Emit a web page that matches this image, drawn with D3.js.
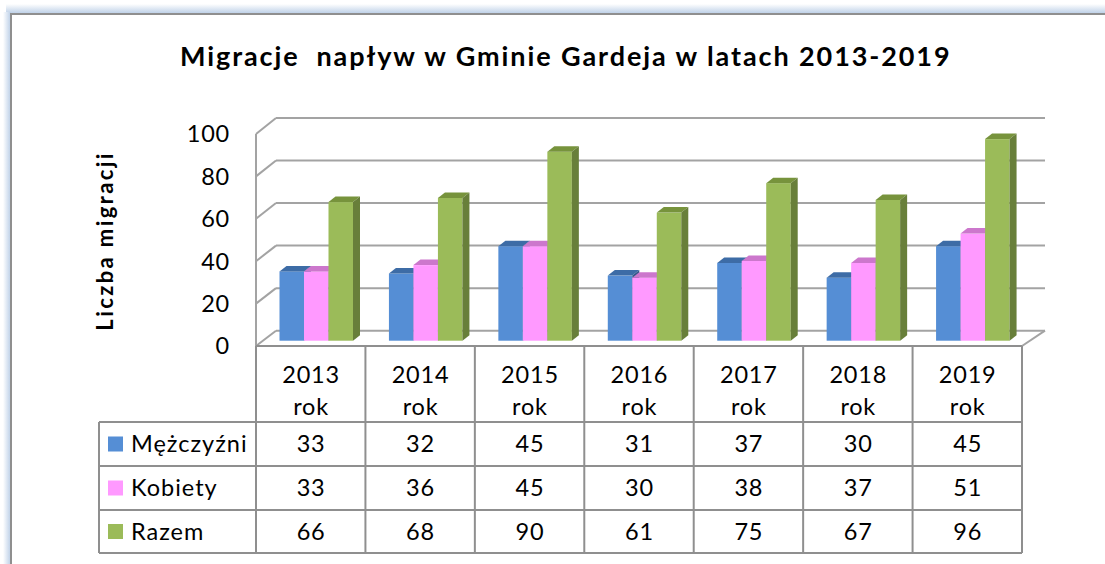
<!DOCTYPE html>
<html><head><meta charset="utf-8">
<script src="https://cdn.jsdelivr.net/npm/d3@7"></script>
<style>
html,body{margin:0;padding:0;background:#fff;overflow:hidden;}
svg{display:block;font-family:Lato,"Open Sans",sans-serif;}
</style></head>
<body>
<svg id="c" width="1105" height="564"></svg>
<script>
const categories = ["2013","2014","2015","2016","2017","2018","2019"];
const catSuffix = "rok";
const seriesNames = ["Mężczyźni","Kobiety","Razem"];
const men   = [33,32,45,31,37,30,45];
const women = [33,36,45,30,38,37,51];
const total = [66,68,90,61,75,67,96];
const yTicks = [0,20,40,60,80,100];
const title = "Migracje  napływ w Gminie Gardeja w latach 2013-2019";
const yTitle = "Liczba migracji";

const seriesValues = [men, women, total];
const colors = [
  {front:"#558ED5", top:"#3D6CA6", side:"#34598a"},
  {front:"#FF99FF", top:"#CC77CC", side:"#b266b2"},
  {front:"#9BBB59", top:"#77933C", side:"#687F3A"}
];

const svg = d3.select("#c");

// frame with glow
const defs = svg.append("defs");
const gT = defs.append("linearGradient").attr("id","gT").attr("x1",0).attr("y1",0).attr("x2",0).attr("y2",1);
gT.append("stop").attr("offset","0").attr("stop-color","#ffffff");
gT.append("stop").attr("offset","1").attr("stop-color","#b9cde6");
const gL = defs.append("linearGradient").attr("id","gL").attr("x1",0).attr("y1",0).attr("x2",1).attr("y2",0);
gL.append("stop").attr("offset","0").attr("stop-color","#ffffff");
gL.append("stop").attr("offset","1").attr("stop-color","#b9cde6");
svg.append("rect").attr("x",6).attr("y",4).attr("width",1105).attr("height",10).attr("fill","url(#gT)");
svg.append("rect").attr("x",3).attr("y",12).attr("width",8).attr("height",560).attr("fill","url(#gL)");
svg.append("rect").attr("x",11).attr("y",14).attr("width",1200).attr("height",600)
  .attr("fill","#fff").attr("stroke","#8f8f8f").attr("stroke-width",2);

// scales
const x = d3.scaleBand().domain(categories).range([256, 1022]).padding(0);
const xs = d3.scaleBand().domain(seriesNames).range([23.5, 97]).padding(0);
const yFront = d3.scaleLinear().domain([0,100]).range([346,134]);
const yBack  = d3.scaleLinear().domain([0,100]).range([330.7,118]);
const yBar   = d3.scaleLinear().domain([0,100]).range([340.7,130.7]);
const depthX = 20, backRight = 1045;
const barDX = 7, barDY = -5.5;
const fs = 23.5, ls = 0.8;

const gridColor = "#a3a3a3";
// back wall gridlines
svg.append("g").selectAll("line").data(yTicks).join("line")
  .attr("x1", 256+depthX).attr("x2", backRight)
  .attr("y1", d=>yBack(d)).attr("y2", d=>yBack(d))
  .attr("stroke", gridColor).attr("stroke-width", 2);
// side wall diagonals
svg.append("g").selectAll("line").data(yTicks).join("line")
  .attr("x1", 256).attr("x2", 256+depthX)
  .attr("y1", d=>yFront(d)).attr("y2", d=>yBack(d))
  .attr("stroke", gridColor).attr("stroke-width", 2);
// front vertical axis
svg.append("line").attr("x1",256).attr("x2",256).attr("y1",yFront(100)).attr("y2",yFront(0))
  .attr("stroke", gridColor).attr("stroke-width",2);
// floor right diagonal
svg.append("line").attr("x1",1022).attr("x2",backRight).attr("y1",yFront(0)).attr("y2",yBack(0))
  .attr("stroke", gridColor).attr("stroke-width",2);

// tick labels
svg.append("g").selectAll("text").data(yTicks).join("text")
  .attr("x", 230).attr("y", d=>yFront(d)).attr("dy","0.36em")
  .attr("text-anchor","end").attr("font-size",fs).attr("letter-spacing",ls).attr("fill","#000")
  .text(d=>d);

// y title
svg.append("text").attr("transform","translate(105,241) rotate(-90)")
  .attr("dy","0.35em")
  .attr("text-anchor","middle").attr("font-size",22).attr("letter-spacing",2.4)
  .attr("font-weight","bold").text(yTitle);

// title
svg.append("text").attr("x",180).attr("y",66).attr("text-anchor","start")
  .style("white-space","pre").attr("letter-spacing",1.9)
  .attr("font-size",27).attr("font-weight","bold").text(title);

// bars
const bars = [];
categories.forEach((c,i)=>{
  seriesNames.forEach((s,j)=>{
    bars.push({c, s, j, v: seriesValues[j][i]});
  });
});
const bg = svg.append("g");
bars.forEach(b=>{
  const x0 = x(b.c) + xs(b.s);
  const w = xs.bandwidth();
  const y0 = yBar(0), y1 = yBar(b.v);
  const col = colors[b.j];
  const g = bg.append("g");
  g.append("rect").attr("x",x0).attr("y",y1).attr("width",w).attr("height",y0-y1).attr("fill",col.front);
  g.append("path").attr("d",`M${x0},${y1}L${x0+barDX},${y1+barDY}L${x0+w+barDX},${y1+barDY}L${x0+w},${y1}Z`).attr("fill",col.top);
  g.append("path").attr("d",`M${x0+w},${y1}L${x0+w+barDX},${y1+barDY}L${x0+w+barDX},${y0+barDY}L${x0+w},${y0}Z`).attr("fill",col.side);
});

// table
const tableColor = "#8f8f8f";
const rowY = [346, 422, 466, 510, 553];
const tLeft = 99;
const tg = svg.append("g").attr("stroke", tableColor).attr("stroke-width",2);
tg.append("line").attr("x1",256).attr("x2",1022).attr("y1",rowY[0]).attr("y2",rowY[0]);
rowY.slice(1).forEach(y=>{
  tg.append("line").attr("x1",tLeft).attr("x2",1022).attr("y1",y).attr("y2",y);
});
tg.append("line").attr("x1",tLeft).attr("x2",tLeft).attr("y1",rowY[1]).attr("y2",rowY[4]);
categories.forEach(c=>{
  tg.append("line").attr("x1",x(c)).attr("x2",x(c)).attr("y1",rowY[0]).attr("y2",rowY[4]);
});
tg.append("line").attr("x1",1022).attr("x2",1022).attr("y1",rowY[0]).attr("y2",rowY[4]);

const cx = c => x(c) + x.bandwidth()/2 + ls/2;
// header
const hg = svg.append("g").attr("font-size",fs).attr("letter-spacing",ls).attr("text-anchor","middle");
categories.forEach(c=>{
  hg.append("text").attr("x", cx(c)).attr("y",382.5).text(c);
  hg.append("text").attr("x", cx(c)).attr("y",414.5).text(catSuffix);
});
// rows
seriesNames.forEach((s,j)=>{
  const cy = (rowY[j+1]+rowY[j+2])/2;
  svg.append("rect").attr("x",108).attr("y",cy-7.5).attr("width",15).attr("height",15).attr("fill",colors[j].front);
  svg.append("text").attr("x",131).attr("y",cy).attr("dy","0.36em").attr("font-size",fs).attr("letter-spacing",1).text(s);
  categories.forEach((c,i)=>{
    svg.append("text").attr("x",cx(c)).attr("y",cy).attr("dy","0.36em")
      .attr("text-anchor","middle").attr("font-size",fs).attr("letter-spacing",ls).text(seriesValues[j][i]);
  });
});
</script>
</body></html>
